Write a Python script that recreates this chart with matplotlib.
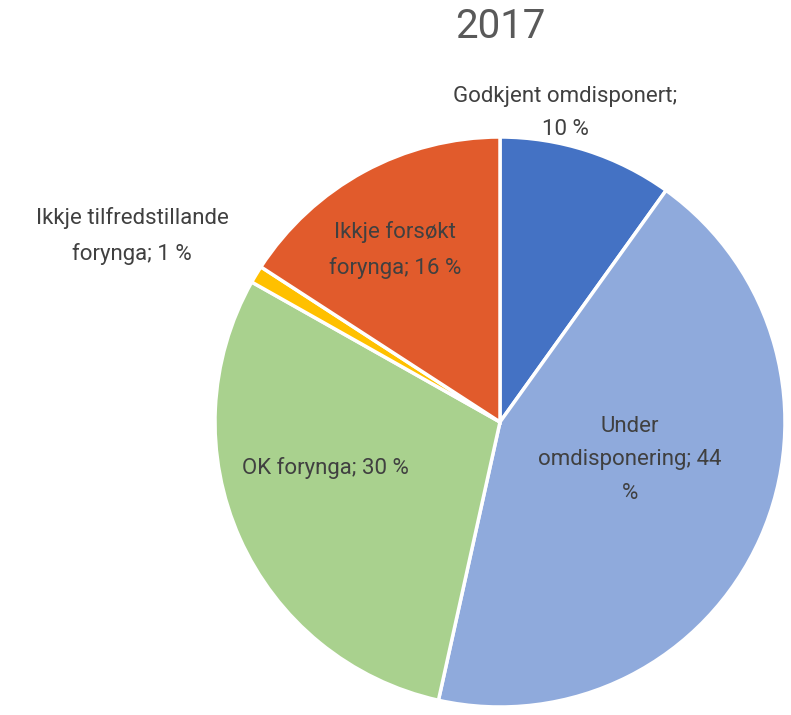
import matplotlib.pyplot as plt

# data
kategoriar = ["Godkjent omdisponert", "Under omdisponering", "OK forynga",
              "Ikkje tilfredstillande forynga", "Ikkje forsøkt forynga"]
prosent = [10, 44, 30, 1, 16]
fargar = ["#4472C4", "#8FAADC", "#A9D18E", "#FFC000", "#E15B2C"]
etikettar = ["Godkjent omdisponert;\n10 %", "Under\nomdisponering; 44\n%",
             "OK forynga; 30 %", "Ikkje tilfredstillande\nforynga; 1 %",
             "Ikkje forsøkt\nforynga; 16 %"]
# etikett-plassering (piksel, y nedover)
pos = [(565, 113), (630, 460), (325, 468), (132, 236), (395, 250)]

plt.rcParams['font.family'] = ['Roboto', 'DejaVu Sans']
W, H = 791, 715
fig = plt.figure(figsize=(W / 100, H / 100), dpi=100)
ax = fig.add_axes([0, 0, 1, 1])
ax.set_xlim(0, W)
ax.set_ylim(0, H)
ax.set_aspect('equal')
ax.axis('off')

ax.pie(prosent, colors=fargar, startangle=90, counterclock=False,
       center=(500, H - 422), radius=285,
       wedgeprops=dict(edgecolor='white', linewidth=2.5))
ax.set_xlim(0, W)
ax.set_ylim(0, H)

for tekst, (x, y) in zip(etikettar, pos):
    ax.text(x, H - y, tekst, ha='center', va='center', fontsize=16,
            color='#404040', linespacing=1.8)

ax.text(500, H - 27, "2017", ha='center', va='center', fontsize=29, color='#595959')

fig.savefig("out.png", dpi=100)
